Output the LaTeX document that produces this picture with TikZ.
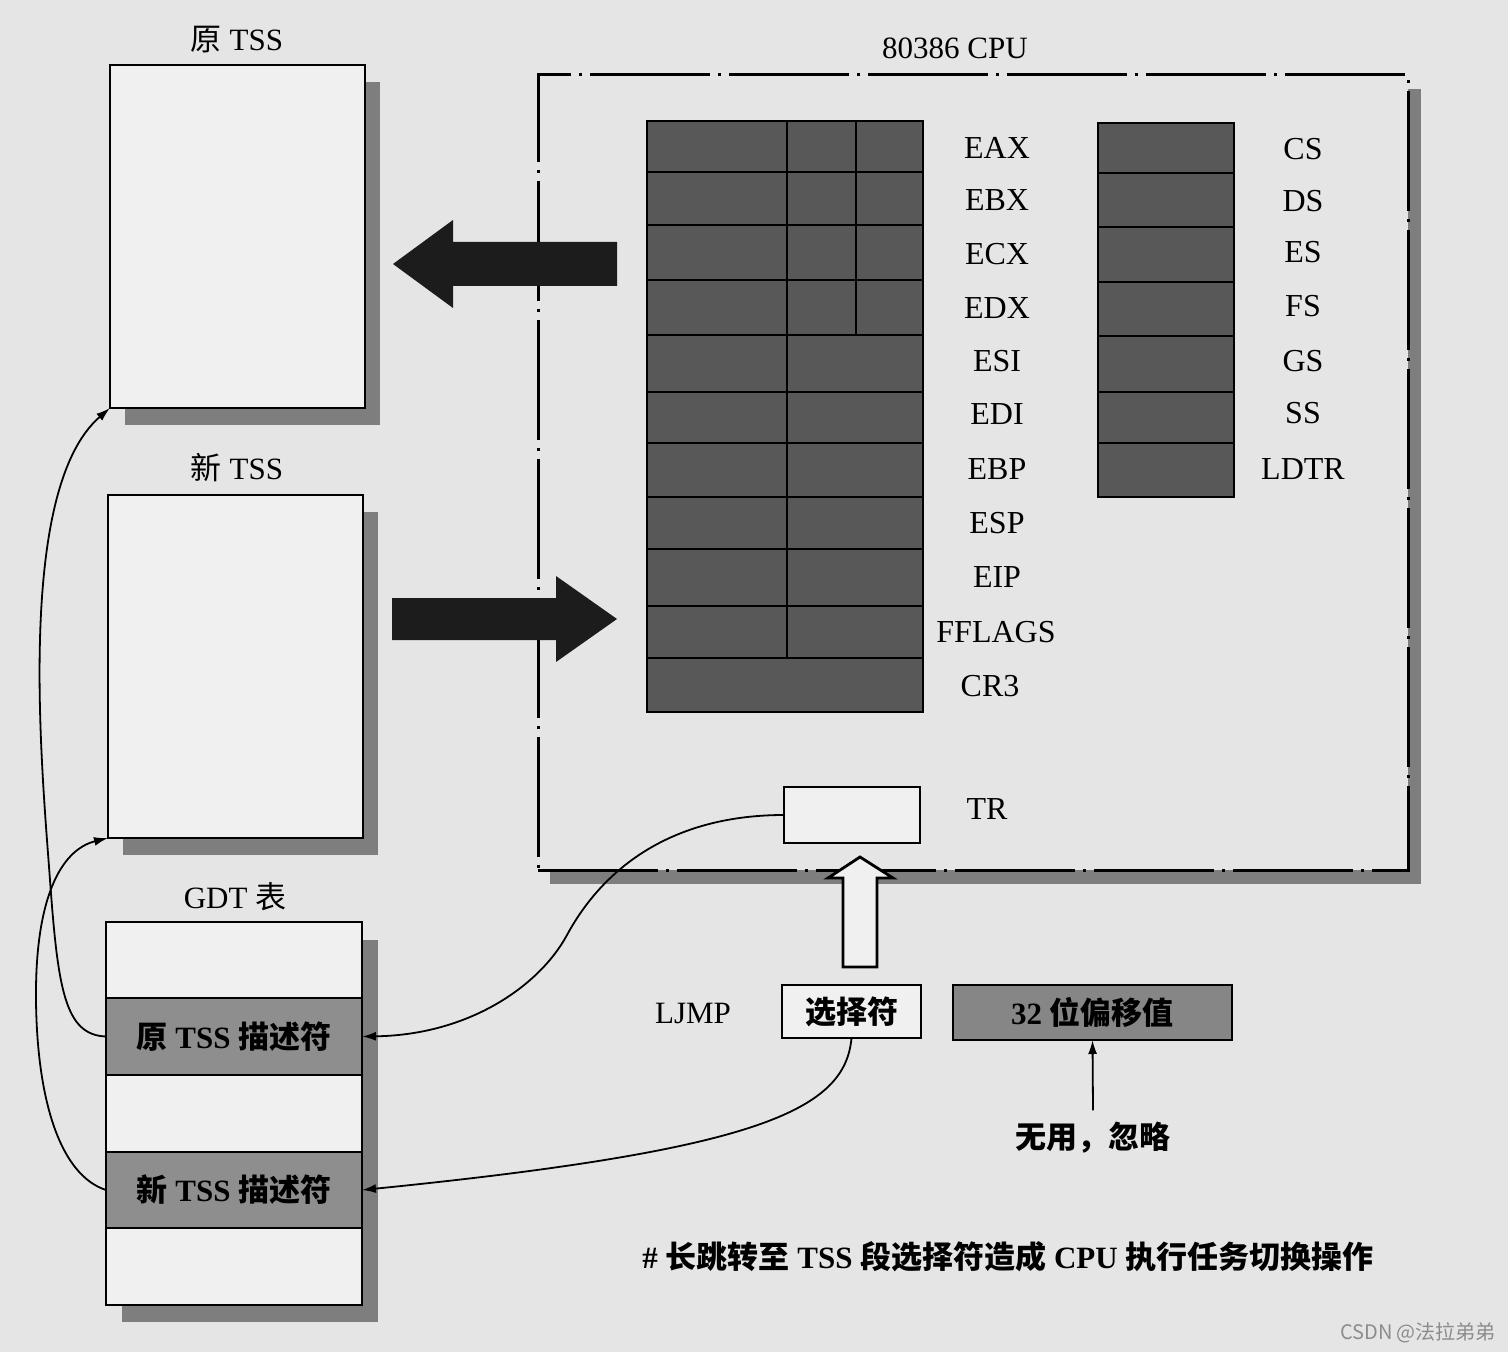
\documentclass[tikz,border=0pt]{standalone}
\usepackage{fontspec}
\setmainfont{Liberation Serif}
\newfontfamily\cjk{Noto Sans CJK SC}
\usetikzlibrary{arrows.meta}
\definecolor{bg}{HTML}{E5E5E5}
\definecolor{boxfill}{HTML}{F0F0F0}
\definecolor{regfill}{HTML}{585858}
\definecolor{descfill}{HTML}{8E8E8E}
\definecolor{offfill}{HTML}{868686}
\definecolor{shadowc}{HTML}{7E7E7E}
\definecolor{bigarrow}{HTML}{1C1C1C}
\newcommand\lblfont{\fontsize{15.5pt}{18pt}\selectfont}
\begin{document}
\begin{tikzpicture}[x=0.5pt,y=-0.5pt,
  every node/.style={inner sep=0pt, outer sep=0pt},
  boxw/.style={draw=black, line width=1.4pt, fill=boxfill, anchor=north west},
  lbl/.style={font=\lblfont},
  blbl/.style={font=\lblfont\bfseries},
  reglbl/.style={font=\fontsize{16pt}{18pt}\selectfont},
  conn/.style={line width=0.9pt, -{Latex[length=7pt,width=4.5pt]}},
  gridline/.style={line width=1.4pt},
  shade/.style={fill=shadowc},
  cpubox/.style={draw=black, line width=1.5pt, fill=bg, anchor=north west,
     dash pattern=on 60pt off 4pt on 1.5pt off 4pt},
  bigarr/.style={fill=bigarrow},
  hollow/.style={draw=black, line width=1.4pt, fill=boxfill}
]
\fill[bg] (0,0) rectangle (1508,1352);
\useasboundingbox (0,0) rectangle (1508,1352);

% ---------- 原 TSS ----------
\node[lbl] (otsslbl) at (237,40) {{\cjk 原} TSS};
\fill[shade] (125,82) rectangle (380,425);
\node[boxw, minimum width=127.5pt, minimum height=171.5pt] (otss) at (110,65) {};

% ---------- 新 TSS ----------
\node[lbl] (ntsslbl) at (237,468) {{\cjk 新} TSS};
\fill[shade] (123,512) rectangle (378,855);
\node[boxw, minimum width=127.5pt, minimum height=171.5pt] (ntss) at (108,495) {};

% ---------- GDT ----------
\node[lbl] (gdtlbl) at (235,897) {GDT {\cjk 表}};
\fill[shade] (122,940) rectangle (378,1322);
\node[boxw, minimum width=128pt, minimum height=38pt] (g1) at (106,922) {};
\node[boxw, fill=descfill, minimum width=128pt, minimum height=38.5pt, blbl] (g2) at (106,998)
   {{\cjk 原} TSS {\cjk 描述符}};
\node[boxw, minimum width=128pt, minimum height=38.5pt] (g3) at (106,1075) {};
\node[boxw, fill=descfill, minimum width=128pt, minimum height=38pt, blbl] (g4) at (106,1152)
   {{\cjk 新} TSS {\cjk 描述符}};
\node[boxw, minimum width=128pt, minimum height=38.5pt] (g5) at (106,1228) {};

% ---------- CPU ----------
\node[lbl] (cpulbl) at (955,48) {80386 CPU};
\fill[shade] (550,89) rectangle (1421,884);
\node[cpubox, minimum width=435pt, minimum height=397.5pt] (cpu) at (538,75) {};

% general registers
\node[boxw, fill=regfill, minimum width=138pt, minimum height=295.5pt] (regs) at (647,121) {};
\foreach \yy in {172,225,280,335,392,443,497,549,606,658}
  \draw[gridline] (647,\yy) -- (923,\yy);
\draw[gridline] (787,121) -- (787,658);
\draw[gridline] (856,121) -- (856,335);

\node[reglbl] (eax) at (997,148) {EAX};
\node[reglbl] (ebx) at (997,200) {EBX};
\node[reglbl] (ecx) at (997,254) {ECX};
\node[reglbl] (edx) at (997,308) {EDX};
\node[reglbl] (esi) at (997,361) {ESI};
\node[reglbl] (edi) at (997,414) {EDI};
\node[reglbl] (ebp) at (997,469) {EBP};
\node[reglbl] (esp) at (997,523) {ESP};
\node[reglbl] (eip) at (997,577) {EIP};
\node[reglbl] (efl) at (996,632) {FFLAGS};
\node[reglbl] (cr3) at (990,686) {CR3};

% segment registers
\node[boxw, fill=regfill, minimum width=68pt, minimum height=187pt] (segs) at (1098,123) {};
\foreach \yy in {173,227,282,336,392,443}
  \draw[gridline] (1098,\yy) -- (1234,\yy);
\node[reglbl] (cs) at (1303,149) {CS};
\node[reglbl] (ds) at (1303,201) {DS};
\node[reglbl] (es) at (1303,252) {ES};
\node[reglbl] (fs) at (1303,306) {FS};
\node[reglbl] (gs) at (1303,361) {GS};
\node[reglbl] (ss) at (1303,413) {SS};
\node[reglbl] (ldtr) at (1303,469) {LDTR};

% TR
\node[boxw, minimum width=68pt, minimum height=28pt] (tr) at (784,787) {};
\node[reglbl] (trlbl) at (987,809) {TR};

% big arrows
\fill[bigarr] (393,264) -- (453,220) -- (453,242) -- (617,242) -- (617,286)
   -- (453,286) -- (453,308) -- cycle;
\fill[bigarr] (392,598) -- (556,598) -- (556,576) -- (617,619) -- (556,662)
   -- (556,640) -- (392,640) -- cycle;

% hollow up arrow
\draw[hollow] (860,857) -- (893,878) -- (877,878) -- (877,967) -- (843,967)
   -- (843,878) -- (828,878) -- cycle;

% LJMP instruction
\node[lbl] (ljmp) at (693,1013) {LJMP};
\node[boxw, minimum width=69.5pt, minimum height=26.5pt, font=\lblfont\cjk\bfseries] (sel) at (782,985)
   {选择符};
\node[boxw, fill=offfill, minimum width=139.5pt, minimum height=27.5pt, blbl] (off) at (953,985)
   {32 {\cjk 位偏移值}};
\node[font=\lblfont\cjk\bfseries] (useless) at (1093,1138) {无用，忽略};

% caption and watermark
\node[blbl] (caption) at (1008,1257) {\# {\cjk 长跳转至} TSS {\cjk 段选择符造成} CPU {\cjk 执行任务切换操作}};
\node[font=\fontsize{10pt}{12pt}\selectfont\cjk, text=black!45] (wm) at (1418,1333) {CSDN @法拉弟弟};

% connectors
\draw[conn] (g2.west) .. controls (65,1035) and (58,990) .. (50,880)
   .. controls (42,770) and (15,490) .. (otss.south west);
\draw[conn] (g4.west) .. controls (60,1175) and (37,1100) .. (36,1000)
   .. controls (35,900) and (60,850) .. (ntss.south west);
\draw[conn] (tr.west) .. controls (675,815) and (605,865) .. (567,935)
   .. controls (540,985) and (470,1035) .. (g2.east);
\draw[conn] (sel.south) .. controls (845,1110) and (760,1150) .. (g4.east);
\draw[conn] ([yshift=6pt]useless.north) -- (off.south);
\end{tikzpicture}
\end{document}
